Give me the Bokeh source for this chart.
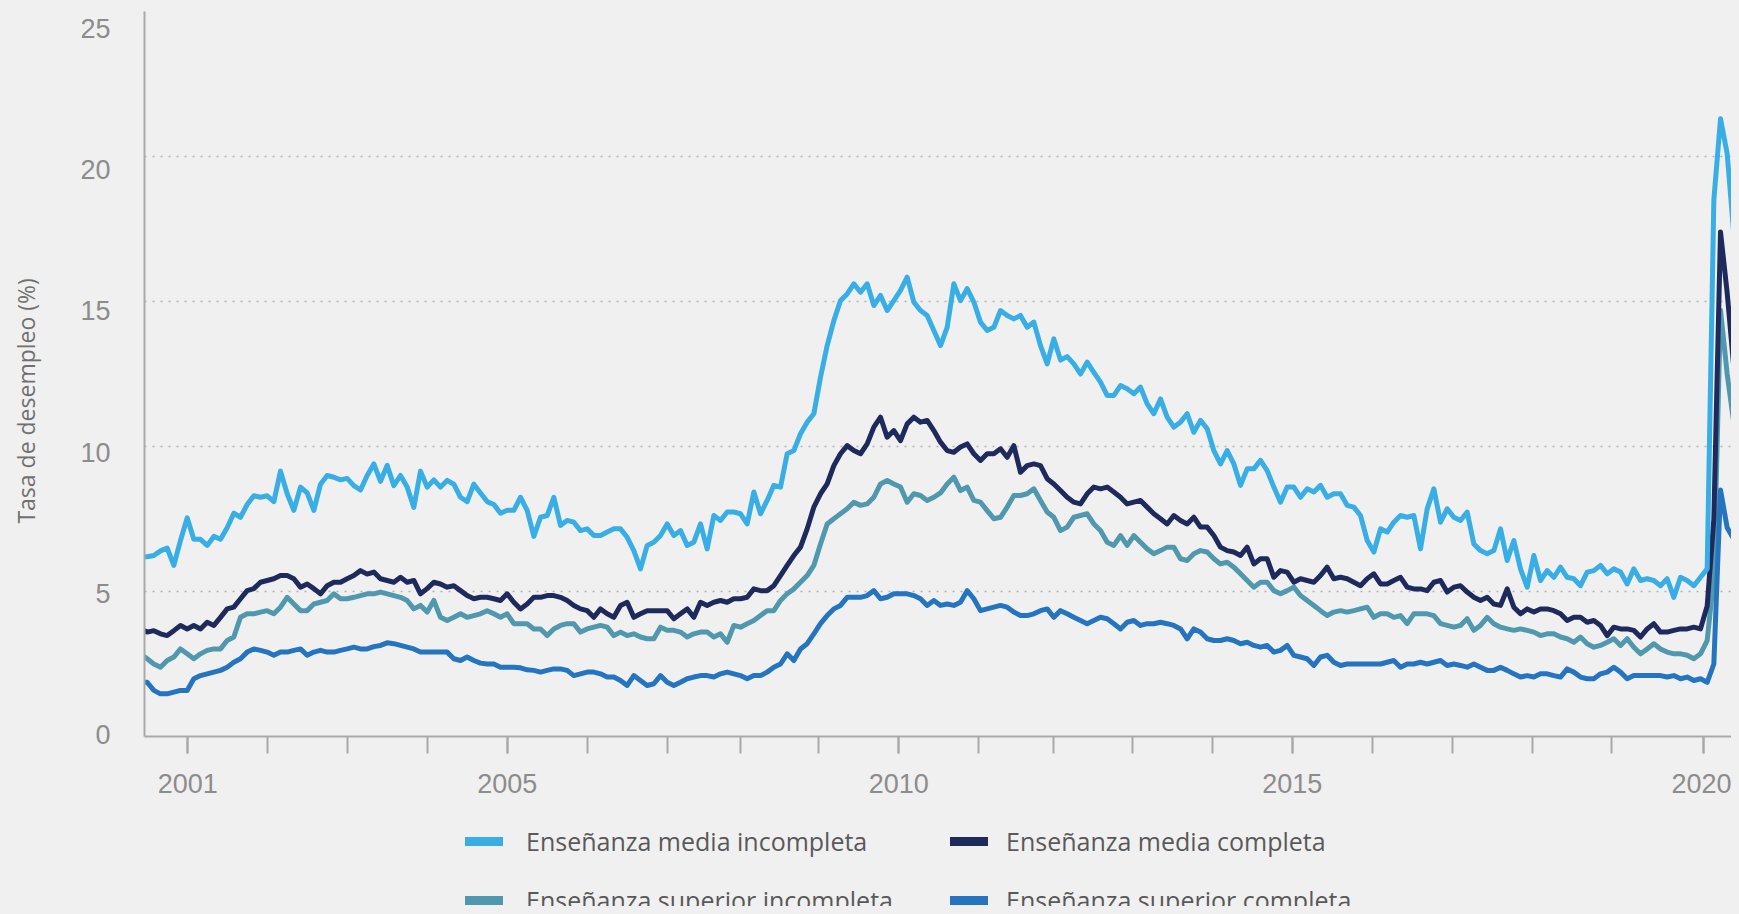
import numpy as np
from bokeh.plotting import figure
from bokeh.layouts import column
from bokeh.models import Range1d, LinearAxis, FixedTicker, Grid, Legend, LegendItem
from bokeh.embed import file_html
from bokeh.resources import INLINE

# ---------------- data ----------------
# x = monthly observation index (0 = first month shown, mid-2000)
YEAR_TICK_POS = [7.1, 19.0, 31.0, 43.0, 55.0, 67.0, 79.0, 90.0, 101.75, 113.75,
                 125.75, 137.0, 148.75, 160.75, 172.75, 184.75, 196.75, 208.75, 220.6, 234.5]
LABEL_TICK_POS = [7.1, 55.0, 113.75, 172.75, 234.5]
LABEL_TICK_TEXT = ["2001", "2005", "2010", "2015", "2020"]
Y_TICKS = [0, 5, 10, 15, 20, 25]
GRID_TICKS = [5, 10, 15, 20, 25]
Y_TITLE = "Tasa de desempleo (%)"

SERIES_NAMES = [
    "Enseñanza media incompleta",
    "Enseñanza media completa",
    "Enseñanza superior incompleta",
    "Enseñanza superior completa",
]

media_incompleta = [
    6.2, 6.2, 6.24, 6.4, 6.5, 5.9, 6.76, 7.54, 6.8, 6.8, 6.59, 6.9, 6.8, 7.2, 7.7, 7.56, 8.0, 8.3, 8.25, 8.3,
    8.1, 9.15, 8.37, 7.8, 8.6, 8.4, 7.8, 8.7, 9.0, 8.94, 8.85, 8.9, 8.65, 8.5, 9.0, 9.4, 8.8, 9.35, 8.65, 9.0,
    8.6, 7.9, 9.15, 8.6, 8.85, 8.6, 8.83, 8.7, 8.25, 8.1, 8.7, 8.4, 8.1, 8.0, 7.7, 7.8, 7.8, 8.25, 7.8, 6.9,
    7.56, 7.62, 8.25, 7.28, 7.45, 7.39, 7.1, 7.16, 6.93, 6.93, 7.05, 7.16, 7.16, 6.87, 6.41, 5.78, 6.59, 6.7, 6.93, 7.33,
    6.93, 7.1, 6.59, 6.7, 7.33, 6.47, 7.62, 7.45, 7.74, 7.74, 7.68, 7.33, 8.43, 7.68, 8.14, 8.66, 8.6, 9.75, 9.86, 10.44,
    10.84, 11.13, 12.39, 13.48, 14.34, 15.03, 15.26, 15.61, 15.32, 15.61, 14.86, 15.21, 14.69, 15.03, 15.38, 15.84, 14.98, 14.69, 14.52, 14.0,
    13.48, 14.11, 15.61, 15.03, 15.44, 14.98, 14.29, 14.0, 14.11, 14.69, 14.52, 14.4, 14.52, 14.11, 14.29, 13.48, 12.85, 13.71, 12.98, 13.1,
    12.85, 12.5, 12.91, 12.56, 12.22, 11.76, 11.76, 12.1, 11.99, 11.82, 12.05, 11.47, 11.13, 11.64, 11.01, 10.67, 10.84, 11.13, 10.49, 10.9,
    10.61, 9.86, 9.4, 9.86, 9.4, 8.66, 9.23, 9.23, 9.52, 9.17, 8.6, 8.08, 8.6, 8.6, 8.25, 8.54, 8.43, 8.66, 8.25, 8.37,
    8.37, 7.97, 7.91, 7.62, 6.76, 6.36, 7.16, 7.05, 7.39, 7.62, 7.56, 7.62, 6.47, 7.85, 8.54, 7.39, 7.85, 7.56, 7.45, 7.74,
    6.64, 6.41, 6.3, 6.41, 7.16, 6.07, 6.76, 5.78, 5.15, 6.24, 5.38, 5.72, 5.49, 5.84, 5.49, 5.44, 5.2, 5.67, 5.72, 5.9,
    5.61, 5.78, 5.67, 5.26, 5.78, 5.38, 5.44, 5.38, 5.2, 5.44, 4.8, 5.49, 5.38, 5.2, 5.49, 5.78,
    18.5, 21.3, 20.1, 17.3, 15.5,
]

media_completa = [
    3.71, 3.6, 3.65, 3.54, 3.48, 3.65, 3.83, 3.71, 3.83, 3.71, 3.94, 3.83, 4.11, 4.4, 4.46, 4.75, 5.03, 5.1, 5.32, 5.38,
    5.44, 5.55, 5.55, 5.44, 5.15, 5.26, 5.1, 4.92, 5.2, 5.32, 5.32, 5.44, 5.55, 5.72, 5.6, 5.67, 5.44, 5.38, 5.32, 5.49,
    5.32, 5.38, 4.92, 5.1, 5.32, 5.26, 5.15, 5.2, 5.03, 4.86, 4.75, 4.8, 4.8, 4.75, 4.69, 4.92, 4.63, 4.4, 4.57, 4.8,
    4.8, 4.86, 4.86, 4.8, 4.69, 4.52, 4.4, 4.34, 4.11, 4.4, 4.23, 4.11, 4.52, 4.63, 4.11, 4.23, 4.34, 4.34, 4.34, 4.34,
    4.06, 4.23, 4.4, 4.11, 4.63, 4.52, 4.63, 4.69, 4.63, 4.75, 4.75, 4.8, 5.09, 5.03, 5.03, 5.2, 5.55, 5.9, 6.24, 6.53,
    7.16, 7.91, 8.37, 8.71, 9.34, 9.75, 10.03, 9.86, 9.75, 10.09, 10.67, 11.01, 10.32, 10.55, 10.2, 10.78, 11.01, 10.84, 10.9, 10.55,
    10.15, 9.86, 9.8, 9.98, 10.09, 9.75, 9.52, 9.75, 9.75, 9.92, 9.63, 10.03, 9.11, 9.34, 9.4, 9.34, 8.89, 8.71, 8.48, 8.25,
    8.08, 8.02, 8.37, 8.6, 8.54, 8.6, 8.43, 8.25, 8.02, 8.08, 8.14, 7.91, 7.68, 7.51, 7.33, 7.62, 7.45, 7.33, 7.56, 7.22,
    7.22, 6.93, 6.53, 6.41, 6.36, 6.24, 6.53, 5.95, 6.13, 6.13, 5.49, 5.72, 5.67, 5.32, 5.44, 5.38, 5.32, 5.55, 5.84, 5.44,
    5.49, 5.44, 5.32, 5.2, 5.44, 5.61, 5.26, 5.26, 5.38, 5.49, 5.15, 5.09, 5.09, 5.03, 5.32, 5.38, 4.98, 5.15, 5.2, 4.98,
    4.8, 4.69, 4.8, 4.57, 4.52, 5.09, 4.46, 4.23, 4.4, 4.29, 4.4, 4.4, 4.34, 4.23, 4.0, 4.11, 4.11, 3.94, 4.0, 3.83,
    3.48, 3.77, 3.71, 3.71, 3.66, 3.43, 3.71, 3.89, 3.6, 3.6, 3.66, 3.71, 3.71, 3.77, 3.71, 4.5,
    7.5, 17.4, 15.3, 12.7, 10.8,
]

superior_incompleta = [
    2.85, 2.68, 2.5, 2.39, 2.62, 2.74, 3.02, 2.85, 2.68, 2.85, 2.97, 3.02, 3.02, 3.31, 3.43, 4.11, 4.23, 4.23, 4.29, 4.34,
    4.23, 4.46, 4.8, 4.57, 4.34, 4.34, 4.57, 4.63, 4.69, 4.92, 4.75, 4.75, 4.8, 4.86, 4.92, 4.92, 4.98, 4.92, 4.86, 4.8,
    4.69, 4.4, 4.52, 4.29, 4.69, 4.11, 4.0, 4.11, 4.23, 4.11, 4.17, 4.23, 4.34, 4.23, 4.11, 4.23, 3.89, 3.89, 3.89, 3.71,
    3.71, 3.48, 3.71, 3.83, 3.89, 3.89, 3.6, 3.71, 3.77, 3.83, 3.77, 3.48, 3.6, 3.48, 3.54, 3.43, 3.37, 3.37, 3.77, 3.66,
    3.66, 3.6, 3.43, 3.54, 3.6, 3.6, 3.43, 3.54, 3.25, 3.83, 3.77, 3.89, 4.0, 4.17, 4.34, 4.34, 4.69, 4.92, 5.09, 5.32,
    5.55, 5.9, 6.64, 7.33, 7.51, 7.68, 7.85, 8.08, 7.97, 8.02, 8.25, 8.71, 8.83, 8.71, 8.6, 8.08, 8.37, 8.31, 8.14, 8.25,
    8.4, 8.71, 8.94, 8.48, 8.6, 8.14, 8.08, 7.79, 7.51, 7.56, 7.91, 8.31, 8.31, 8.37, 8.54, 8.14, 7.74, 7.56, 7.1, 7.22,
    7.56, 7.62, 7.68, 7.33, 7.1, 6.7, 6.59, 6.93, 6.59, 6.93, 6.7, 6.47, 6.3, 6.41, 6.53, 6.53, 6.13, 6.07, 6.3, 6.41,
    6.36, 6.13, 5.95, 6.01, 5.84, 5.61, 5.38, 5.15, 5.32, 5.32, 5.03, 4.92, 5.03, 5.15, 4.86, 4.69, 4.52, 4.34, 4.17, 4.29,
    4.34, 4.29, 4.34, 4.4, 4.46, 4.11, 4.23, 4.23, 4.11, 4.17, 3.89, 4.23, 4.23, 4.23, 4.17, 3.89, 3.83, 3.77, 3.83, 4.06,
    3.66, 3.83, 4.11, 3.89, 3.77, 3.71, 3.66, 3.71, 3.66, 3.6, 3.48, 3.54, 3.54, 3.43, 3.37, 3.25, 3.43, 3.2, 3.08, 3.14,
    3.25, 3.37, 3.14, 3.37, 3.08, 2.85, 3.02, 3.2, 3.02, 2.91, 2.85, 2.85, 2.8, 2.68, 2.85, 3.31,
    5.5, 14.7, 12.5, 10.8, 9.8,
]

superior_completa = [
    1.87, 1.87, 1.59, 1.47, 1.47, 1.53, 1.59, 1.59, 1.99, 2.1, 2.16, 2.22, 2.28, 2.39, 2.56, 2.68, 2.91, 3.02, 2.97, 2.91,
    2.8, 2.91, 2.91, 2.97, 3.02, 2.8, 2.91, 2.97, 2.91, 2.91, 2.97, 3.02, 3.08, 3.02, 3.02, 3.1, 3.14, 3.23, 3.2, 3.14,
    3.08, 3.02, 2.91, 2.91, 2.91, 2.91, 2.91, 2.68, 2.62, 2.74, 2.62, 2.53, 2.5, 2.5, 2.39, 2.39, 2.39, 2.37, 2.3, 2.28,
    2.22, 2.28, 2.33, 2.33, 2.28, 2.1, 2.16, 2.22, 2.22, 2.16, 2.05, 2.05, 1.93, 1.76, 2.1, 1.93, 1.76, 1.82, 2.1, 1.87,
    1.76, 1.87, 1.99, 2.05, 2.1, 2.1, 2.05, 2.16, 2.22, 2.16, 2.1, 1.99, 2.1, 2.1, 2.22, 2.39, 2.5, 2.85, 2.62, 3.02,
    3.2, 3.54, 3.89, 4.17, 4.4, 4.52, 4.8, 4.8, 4.8, 4.86, 5.03, 4.75, 4.8, 4.92, 4.92, 4.92, 4.86, 4.75, 4.52, 4.69,
    4.52, 4.57, 4.52, 4.63, 5.03, 4.75, 4.34, 4.4, 4.46, 4.52, 4.46, 4.29, 4.17, 4.17, 4.23, 4.34, 4.4, 4.11, 4.34, 4.23,
    4.11, 4.0, 3.89, 4.0, 4.11, 4.06, 3.89, 3.71, 3.94, 4.0, 3.83, 3.89, 3.89, 3.94, 3.89, 3.83, 3.71, 3.37, 3.71, 3.6,
    3.37, 3.31, 3.31, 3.37, 3.31, 3.2, 3.25, 3.14, 3.08, 3.14, 2.91, 2.97, 3.14, 2.8, 2.74, 2.68, 2.45, 2.74, 2.8, 2.56,
    2.45, 2.5, 2.5, 2.5, 2.5, 2.5, 2.5, 2.56, 2.62, 2.39, 2.5, 2.5, 2.56, 2.5, 2.56, 2.62, 2.45, 2.5, 2.45, 2.39,
    2.5, 2.39, 2.28, 2.28, 2.39, 2.28, 2.16, 2.05, 2.1, 2.05, 2.16, 2.16, 2.1, 2.05, 2.33, 2.22, 2.05, 1.99, 1.99, 2.16,
    2.22, 2.39, 2.22, 1.99, 2.1, 2.1, 2.1, 2.1, 2.1, 2.05, 2.1, 1.99, 2.05, 1.93, 1.99, 1.87,
    2.5, 8.5, 7.2, 6.8, 5.8,
]

# ---------------- style ----------------
BG = "#f1f0f0"
AXIS_COLOR = "#a9a9a9"
TICK_TEXT = "#8c8c8c"
COLORS = {
    "Enseñanza media incompleta": "#38aee4",
    "Enseñanza media completa": "#1f2a5c",
    "Enseñanza superior incompleta": "#5098ae",
    "Enseñanza superior completa": "#2574bf",
}

W = 1731
H_MAIN = 811
H_LEG = 95
FRAME_LEFT = 144

n = len(media_incompleta)
month_index = np.arange(n)

p = figure(
    width=W, height=H_MAIN, output_backend="svg", toolbar_location=None,
    x_range=Range1d(0.6, 0.6 + (W - FRAME_LEFT) / 6.6667), y_range=Range1d(0, 25),
    y_axis_location=None,
    min_border_left=FRAME_LEFT, min_border_right=0, min_border_top=11, min_border_bottom=75,
    background_fill_color=BG, border_fill_color=BG, outline_line_color=None,
)

for g in p.grid:
    g.visible = False

ygrid = Grid(dimension=1, ticker=FixedTicker(ticks=GRID_TICKS),
             grid_line_color="#b3b3b3", grid_line_width=1.5, grid_line_dash="2 6")
p.add_layout(ygrid)

p.extra_y_ranges = {"lab": Range1d(-0.0708, 25.602)}
yaxis = LinearAxis(y_range_name="lab", ticker=FixedTicker(ticks=Y_TICKS))
yaxis.axis_line_color = AXIS_COLOR
yaxis.axis_line_width = 2
yaxis.major_tick_line_color = None
yaxis.minor_tick_line_color = None
yaxis.major_tick_out = 0
yaxis.minor_tick_out = 0
yaxis.major_label_standoff = 34
yaxis.major_label_text_font = "Liberation Sans"
yaxis.major_label_text_font_size = "27px"
yaxis.major_label_text_color = TICK_TEXT
# trailing no-break spaces move the visible title a little below the frame's middle
yaxis.axis_label = Y_TITLE + "\u00a0" * 9
yaxis.axis_label_text_font = "Open Sans"
yaxis.axis_label_text_font_size = "23px"
yaxis.axis_label_text_font_style = "normal"
yaxis.axis_label_text_color = "#707070"
yaxis.axis_label_standoff = 35
p.add_layout(yaxis, "left")

xaxis = p.xaxis[0]
xaxis.ticker = FixedTicker(ticks=LABEL_TICK_POS, minor_ticks=YEAR_TICK_POS)
xaxis.major_label_overrides = dict(zip(LABEL_TICK_POS, LABEL_TICK_TEXT))
xaxis.axis_line_color = AXIS_COLOR
xaxis.axis_line_width = 2
xaxis.major_tick_line_color = AXIS_COLOR
xaxis.major_tick_line_width = 2
xaxis.major_tick_in = 0
xaxis.major_tick_out = 17
xaxis.minor_tick_line_color = AXIS_COLOR
xaxis.minor_tick_line_width = 2
xaxis.minor_tick_in = 0
xaxis.minor_tick_out = 17
xaxis.major_label_standoff = 20
xaxis.major_label_text_font = "Liberation Sans"
xaxis.major_label_text_font_size = "27px"
xaxis.major_label_text_color = TICK_TEXT

series = {
    "Enseñanza media incompleta": media_incompleta,
    "Enseñanza media completa": media_completa,
    "Enseñanza superior incompleta": superior_incompleta,
    "Enseñanza superior completa": superior_completa,
}

draw_order = ["Enseñanza superior incompleta", "Enseñanza superior completa",
              "Enseñanza media completa", "Enseñanza media incompleta"]
for name in draw_order:
    p.line(month_index, series[name], line_width=5, line_color=COLORS[name], line_join="round")

# ---------------- legend strip below the chart ----------------
q = figure(
    width=W, height=H_LEG, output_backend="svg", toolbar_location=None,
    x_range=Range1d(0, 1), y_range=Range1d(0, 1),
    x_axis_location=None, y_axis_location=None,
    min_border=0, background_fill_color=BG, border_fill_color=BG, outline_line_color=None,
)
q.grid.visible = False

legend_style = dict(
    orientation="vertical", glyph_width=38, glyph_height=26, label_height=26,
    spacing=25, padding=0, margin=0, border_line_color=None, background_fill_alpha=0,
    label_text_font="Open Sans", label_text_font_size="25px", label_text_color="#595959",
)

def legend_items(names):
    items = []
    for name in names:
        # keyed sample sits outside the strip's ranges, so only its legend swatch shows
        dummy = q.line([-3, -2], [-3, -2], line_width=9, line_cap="round", line_color=COLORS[name])
        items.append(LegendItem(label=name, renderers=[dummy]))
    return items

leg1 = Legend(items=legend_items([SERIES_NAMES[0], SERIES_NAMES[2]]),
              location=(465 - FRAME_LEFT, -11), label_standoff=23, **legend_style)
leg2 = Legend(items=legend_items([SERIES_NAMES[1], SERIES_NAMES[3]]),
              location=(950 - FRAME_LEFT, -11), label_standoff=18, **legend_style)
q.add_layout(leg1, "center")
q.add_layout(leg2, "center")

layout = column(p, q, spacing=0)

html = file_html(layout, INLINE)
html = html.replace("</head>", "<style>body{background-color:#f1f0f0;}</style></head>", 1)
open("out.html", "w").write(html)
